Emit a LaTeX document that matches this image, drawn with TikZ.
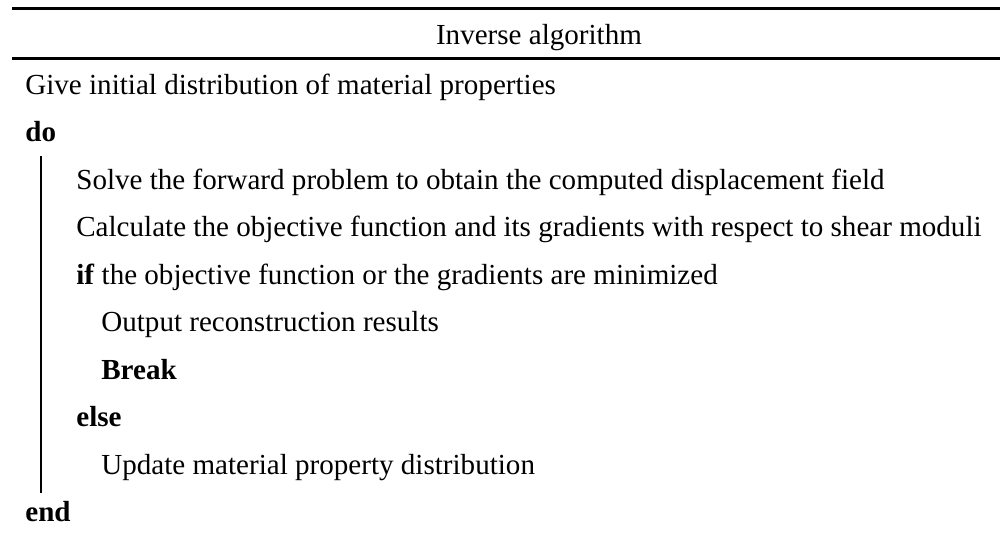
\documentclass[tikz,border=0pt]{standalone}
\usepackage{fontspec}
\setmainfont{Liberation Serif}
\usetikzlibrary{calc}

\tikzset{
  algline/.style={anchor=base west, inner sep=0pt, font=\fontsize{16.55}{20}\selectfont},
  rule/.style={line width=1.7pt}
}

\begin{document}
\begin{tikzpicture}[x=0.02cm, y=-0.02cm]
\useasboundingbox (0,0) rectangle (1000,535);

\draw[rule] (12,8.5) -- (1000,8.5);
\draw[rule] (12,58.5) -- (1000,58.5);

\node[algline, anchor=base] (head) at (539,44) {Inverse algorithm};

\node[algline] (init) at (25,94) {Give initial distribution of material properties};
\node[algline] (do) at (25,141.5) {\textbf{do}};
\node[algline] (solve) at (76,189) {Solve the forward problem to obtain the computed displacement field};
\node[algline] (calc) at (76,236.5) {Calculate the objective function and its gradients with respect to shear moduli};
\node[algline] (if) at (76,284) {\textbf{if} the objective function or the gradients are minimized};
\node[algline] (out) at (101,331.5) {Output reconstruction results};
\node[algline] (brk) at (101,379) {\textbf{Break}};
\node[algline] (else) at (76,426.5) {\textbf{else}};
\node[algline] (upd) at (101,474) {Update material property distribution};
\node[algline] (end) at (25,521.5) {\textbf{end}};

\coordinate (bartop) at (41,156);
\coordinate (barbot) at (41,493);
\draw[line width=1.1pt] (bartop) -- (barbot);

\end{tikzpicture}
\end{document}
